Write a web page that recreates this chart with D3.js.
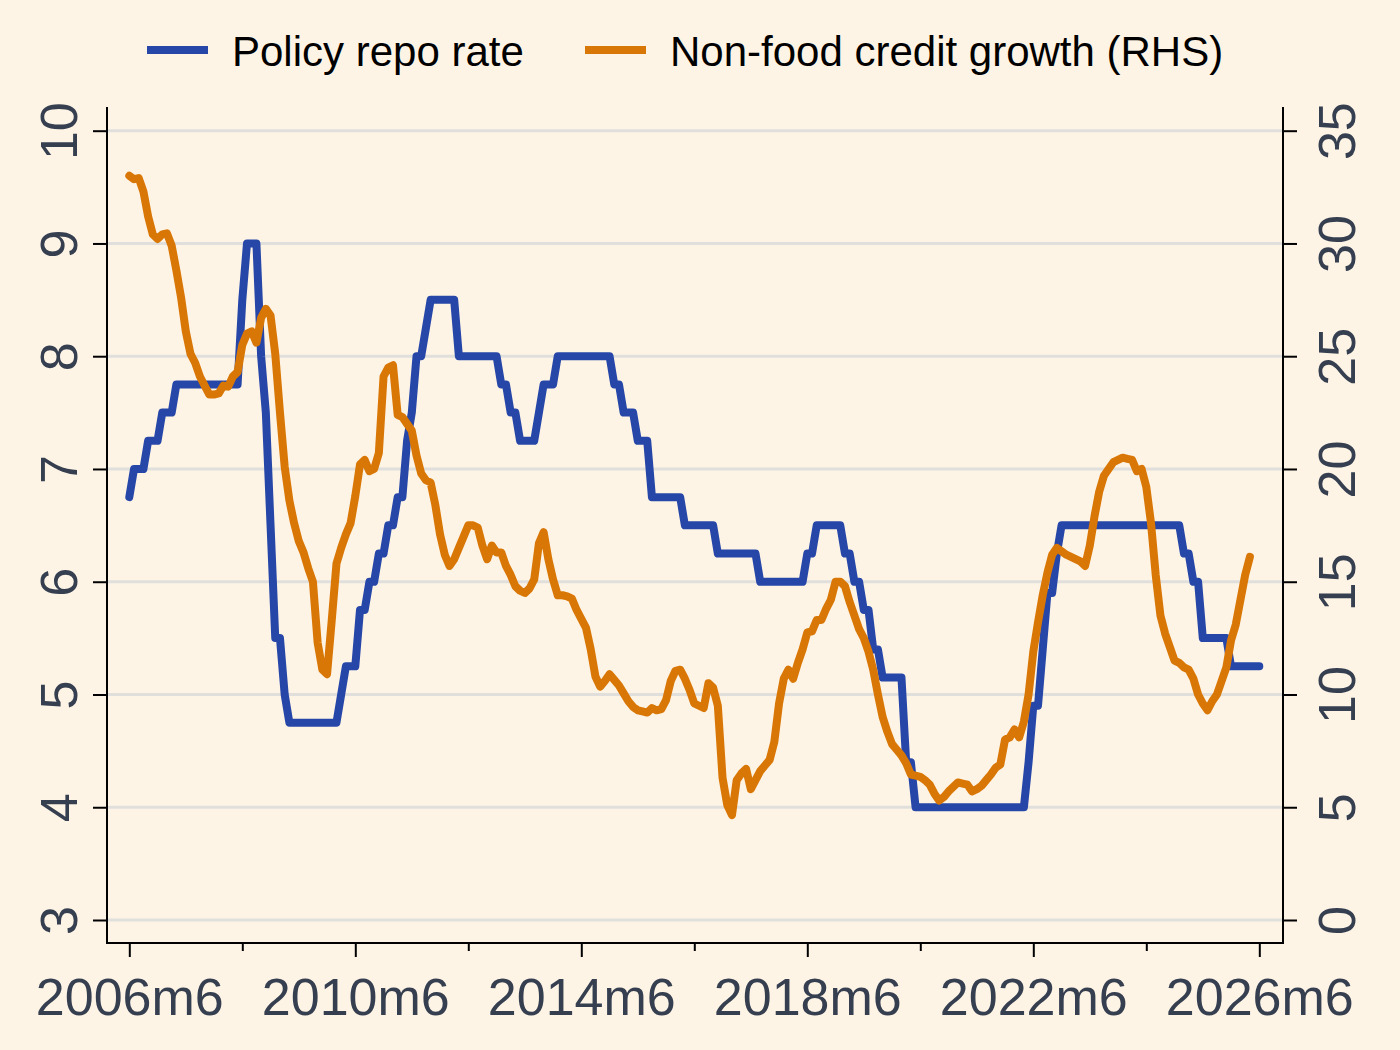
<!DOCTYPE html>
<html>
<head>
<meta charset="utf-8">
<script src="https://cdn.jsdelivr.net/npm/d3@7"></script>
<style>
  body { margin: 0; background: #fef4e6; }
  svg { display: block; font-family: "Liberation Sans", Arial, sans-serif; }
</style>
</head>
<body>
<div class="container"></div>
<script>
const w = 1400;
const h = 1050;

// monthly series, first value = 2006m6
const startYear = 2006;
const startMonth = 6;

const repoRate = [
  6.75, 7, 7, 7, 7.25, 7.25, 7.25,                              // 2006
  7.5, 7.5, 7.5, 7.75, 7.75, 7.75, 7.75, 7.75, 7.75, 7.75, 7.75, 7.75, // 2007
  7.75, 7.75, 7.75, 7.75, 7.75, 8.5, 9, 9, 9, 8, 7.5, 6.5,      // 2008
  5.5, 5.5, 5, 4.75, 4.75, 4.75, 4.75, 4.75, 4.75, 4.75, 4.75, 4.75, // 2009
  4.75, 4.75, 5, 5.25, 5.25, 5.25, 5.75, 5.75, 6, 6, 6.25, 6.25, // 2010
  6.5, 6.5, 6.75, 6.75, 7.25, 7.5, 8, 8, 8.25, 8.5, 8.5, 8.5,   // 2011
  8.5, 8.5, 8.5, 8, 8, 8, 8, 8, 8, 8, 8, 8,                     // 2012
  7.75, 7.75, 7.5, 7.5, 7.25, 7.25, 7.25, 7.25, 7.5, 7.75, 7.75, 7.75, // 2013
  8, 8, 8, 8, 8, 8, 8, 8, 8, 8, 8, 8,                           // 2014
  7.75, 7.75, 7.5, 7.5, 7.5, 7.25, 7.25, 7.25, 6.75, 6.75, 6.75, 6.75, // 2015
  6.75, 6.75, 6.75, 6.5, 6.5, 6.5, 6.5, 6.5, 6.5, 6.5, 6.25, 6.25, // 2016
  6.25, 6.25, 6.25, 6.25, 6.25, 6.25, 6.25, 6, 6, 6, 6, 6,      // 2017
  6, 6, 6, 6, 6, 6.25, 6.25, 6.5, 6.5, 6.5, 6.5, 6.5,           // 2018
  6.5, 6.25, 6.25, 6, 6, 5.75, 5.75, 5.4, 5.4, 5.15, 5.15, 5.15, // 2019
  5.15, 5.15, 4.4, 4.4, 4, 4, 4, 4, 4, 4, 4, 4,                 // 2020
  4, 4, 4, 4, 4, 4, 4, 4, 4, 4, 4, 4,                           // 2021
  4, 4, 4, 4, 4.4, 4.9, 4.9, 5.4, 5.9, 5.9, 6.25, 6.5,          // 2022
  6.5, 6.5, 6.5, 6.5, 6.5, 6.5, 6.5, 6.5, 6.5, 6.5, 6.5, 6.5,   // 2023
  6.5, 6.5, 6.5, 6.5, 6.5, 6.5, 6.5, 6.5, 6.5, 6.5, 6.5, 6.5,   // 2024
  6.5, 6.25, 6.25, 6, 6, 5.5, 5.5, 5.5, 5.5, 5.5, 5.5, 5.25,    // 2025
  5.25, 5.25, 5.25, 5.25, 5.25, 5.25                            // 2026
];

const creditGrowth = [
  33.0, 32.85, 32.9, 32.3, 31.2, 30.4, 30.2,                                  // 2006
  30.4, 30.45, 29.9, 28.8, 27.6, 26.1, 25.1, 24.7, 24.1, 23.7, 23.3, 23.3,    // 2007
  23.35, 23.7, 23.65, 24.1, 24.3, 25.5, 26.0, 26.1, 25.6, 26.7, 27.1, 26.8,   // 2008
  25.1, 22.5, 20.1, 18.6, 17.6, 16.8, 16.3, 15.6, 15.0, 12.3, 11.1, 10.9,     // 2009
  13.3, 15.8, 16.5, 17.1, 17.6, 18.8, 20.2, 20.4, 19.9, 20.0, 20.7, 24.1,     // 2010
  24.5, 24.6, 22.4, 22.3, 22.0, 21.7, 20.6, 19.8, 19.5, 19.4, 18.4, 17.1,     // 2011
  16.2, 15.7, 16.0, 16.5, 17.0, 17.5, 17.5, 17.4, 16.6, 16.0, 16.6, 16.3,     // 2012
  16.3, 15.7, 15.3, 14.8, 14.6, 14.5, 14.7, 15.1, 16.7, 17.2, 16.0, 15.1,     // 2013
  14.4, 14.4, 14.35, 14.25, 13.75, 13.35, 12.95, 12.0, 10.8, 10.35, 10.6, 10.9, // 2014
  10.65, 10.4, 10.05, 9.7, 9.45, 9.3, 9.25, 9.2, 9.4, 9.3, 9.35, 9.75,        // 2015
  10.6, 11.05, 11.1, 10.7, 10.2, 9.6, 9.5, 9.4, 10.5, 10.3, 9.5, 6.3,         // 2016
  5.1, 4.65, 6.2, 6.5, 6.7, 5.8, 6.2, 6.6, 6.85, 7.1, 7.9, 9.6,               // 2017
  10.7, 11.1, 10.7, 11.4, 12.0, 12.75, 12.8, 13.3, 13.3, 13.8, 14.2, 15.0,    // 2018
  15.0, 14.8, 14.1, 13.5, 12.9, 12.5, 11.9, 11.1, 10.0, 9.0, 8.35, 7.8,       // 2019
  7.55, 7.3, 6.95, 6.45, 6.4, 6.35, 6.2, 6.0, 5.6, 5.3, 5.45, 5.7,            // 2020
  5.9, 6.1, 6.05, 6.0, 5.7, 5.8, 5.95, 6.2, 6.45, 6.75, 6.9, 8.0,             // 2021
  8.1, 8.45, 8.1, 8.8, 10.0, 11.9, 13.2, 14.4, 15.4, 16.2, 16.5, 16.35,       // 2022
  16.2, 16.1, 16.0, 15.9, 15.7, 16.6, 17.9, 19.0, 19.7, 20.0, 20.3, 20.4,     // 2023
  20.5, 20.45, 20.4, 19.9, 20.0, 19.2, 17.6, 15.3, 13.5, 12.7, 12.1, 11.5,    // 2024
  11.4, 11.2, 11.1, 10.7, 10.0, 9.6, 9.3, 9.7, 10.0, 10.6, 11.2, 12.4,        // 2025
  13.1, 14.2, 15.3, 16.1                                                      // 2026
];

const leftTicks = [3, 4, 5, 6, 7, 8, 9, 10];
const rightTicks = [0, 5, 10, 15, 20, 25, 30, 35];
const xTickLabels = ["2006m6", "2010m6", "2014m6", "2018m6", "2022m6", "2026m6"];
const xMinorLabels = ["2008m6", "2012m6", "2016m6", "2020m6", "2024m6"];
const seriesNames = ["Policy repo rate", "Non-food credit growth (RHS)"];

const blue = "#2647a8";
const orange = "#d97706";
const tickColor = "#353f50";

const plot = { left: 107, right: 1283, top: 107, bottom: 943 };

// month label "2010m6" -> months since start
const monthIndex = s => {
  const [y, m] = s.split("m").map(Number);
  return (y - startYear) * 12 + (m - startMonth);
};

const x = d3.scaleLinear()
    .domain([0, 240])
    .range([129.3, 1259.3]);

const yLeft = d3.scaleLinear()
    .domain([3, 10])
    .range([920, 130.7]);

const yRight = d3.scaleLinear()
    .domain([0, 35])
    .range([920, 130.7]);

const svg = d3.select('.container').append('svg')
    .attr('width', w)
    .attr('height', h);

svg.append('rect')
    .attr('width', w)
    .attr('height', h)
    .attr('fill', '#fef4e6');

// gridlines
svg.append('g')
  .selectAll('line')
  .data(leftTicks)
  .enter().append('line')
    .attr('x1', plot.left)
    .attr('x2', plot.right)
    .attr('y1', d => yLeft(d))
    .attr('y2', d => yLeft(d))
    .attr('stroke', '#e0dfdc')
    .attr('stroke-width', 3);

// axes
const leftAxis = svg.append('g')
    .attr('transform', `translate(${plot.left},0)`)
    .call(d3.axisLeft(yLeft).tickValues(leftTicks).tickFormat(d3.format('d')).tickSize(14).tickSizeOuter(0));

const rightAxis = svg.append('g')
    .attr('transform', `translate(${plot.right},0)`)
    .call(d3.axisRight(yRight).tickValues(rightTicks).tickFormat(d3.format('d')).tickSize(14).tickSizeOuter(0));

const bottomAxis = svg.append('g')
    .attr('transform', `translate(0,${plot.bottom})`)
    .call(d3.axisBottom(x)
      .tickValues(xTickLabels.map(monthIndex))
      .tickFormat((d, i) => xTickLabels[i])
      .tickSize(14)
      .tickSizeOuter(0));

const minorAxis = svg.append('g')
    .attr('transform', `translate(0,${plot.bottom})`)
    .call(d3.axisBottom(x)
      .tickValues(xMinorLabels.map(monthIndex))
      .tickFormat('')
      .tickSize(8)
      .tickSizeOuter(0));

[leftAxis, rightAxis, bottomAxis, minorAxis].forEach(a => {
  a.select('.domain').remove();
  a.selectAll('.tick line').attr('stroke', '#000').attr('stroke-width', 2);
  a.selectAll('text')
    .attr('fill', tickColor)
    .attr('font-size', 52)
    .attr('font-family', '"Liberation Sans", Arial, sans-serif');
});

leftAxis.selectAll('text')
    .attr('x', 0)
    .attr('y', -30)
    .attr('dy', 0)
    .attr('text-anchor', 'middle')
    .attr('transform', 'rotate(-90)');

rightAxis.selectAll('text')
    .attr('x', 0)
    .attr('y', 72)
    .attr('dy', 0)
    .attr('text-anchor', 'middle')
    .attr('transform', 'rotate(-90)');

bottomAxis.selectAll('text')
    .attr('y', 72)
    .attr('dy', 0);

// axis lines
svg.append('path')
    .attr('stroke', '#000')
    .attr('stroke-width', 2)
    .attr('fill', 'none')
    .attr('d', `M${plot.left},${plot.top}V${plot.bottom}H${plot.right}V${plot.top}`);

// lines
const line = (yScale) => d3.line()
    .x((d, i) => x(i))
    .y(d => yScale(d));

svg.append('path')
    .datum(repoRate)
    .attr('fill', 'none')
    .attr('stroke', blue)
    .attr('stroke-width', 8)
    .attr('stroke-linejoin', 'round')
    .attr('stroke-linecap', 'round')
    .attr('d', line(yLeft));

svg.append('path')
    .datum(creditGrowth)
    .attr('fill', 'none')
    .attr('stroke', orange)
    .attr('stroke-width', 8)
    .attr('stroke-linejoin', 'round')
    .attr('stroke-linecap', 'round')
    .attr('d', line(yRight));

// legend
const legendItems = [
  { name: seriesNames[0], color: blue, x: 147 },
  { name: seriesNames[1], color: orange, x: 585 }
];

const legend = svg.append('g')
  .selectAll('g')
  .data(legendItems)
  .enter().append('g')
    .attr('transform', d => `translate(${d.x},50)`);

legend.append('line')
    .attr('x1', 0)
    .attr('x2', 61)
    .attr('stroke', d => d.color)
    .attr('stroke-width', 8);

legend.append('text')
    .attr('x', 85)
    .attr('y', 16)
    .attr('font-size', 42)
    .attr('fill', '#000')
    .text(d => d.name);
</script>
</body>
</html>
